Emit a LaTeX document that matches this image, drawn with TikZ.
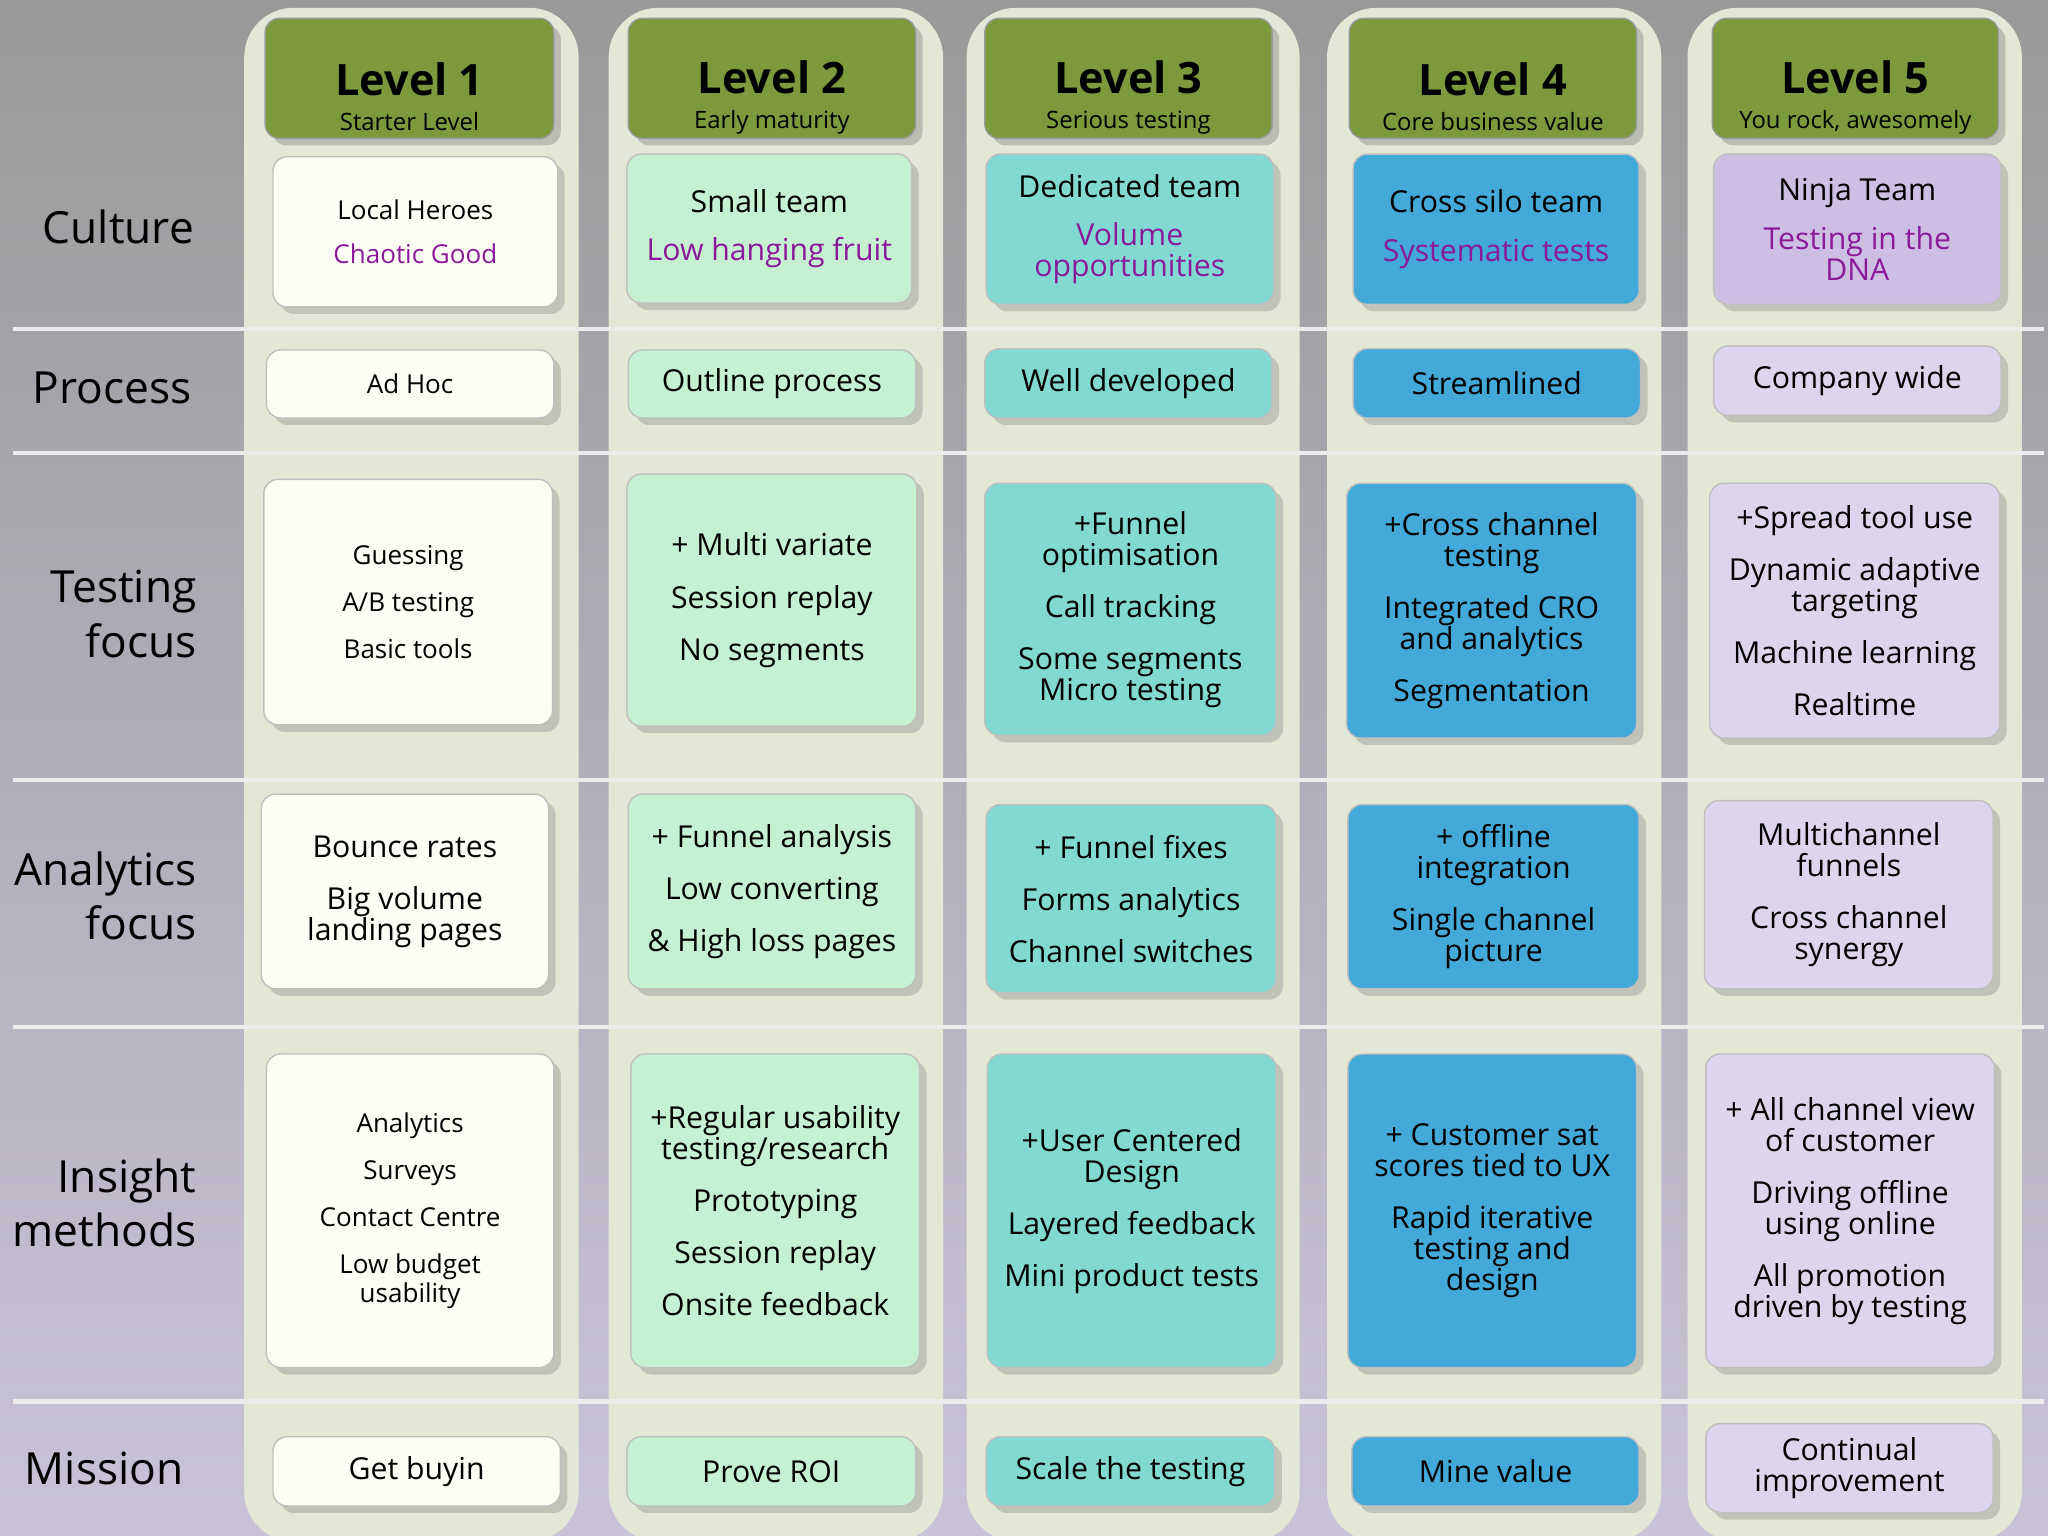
\documentclass[tikz,border=0pt]{standalone}
\usepackage{fontspec}
\setmainfont{Open Sans}
\usetikzlibrary{shadows}
\definecolor{purp}{HTML}{8A1A9A}
\definecolor{hdr}{HTML}{7C9A3C}
\definecolor{cA}{HTML}{FDFDF6}
\definecolor{cB}{HTML}{C6F0D2}
\definecolor{cC}{HTML}{82D9D2}
\definecolor{cD}{HTML}{42A9D8}
\definecolor{cE}{HTML}{CDBEE4}
\definecolor{cEl}{HTML}{DDD5EE}
\definecolor{colbg}{HTML}{E3E7D6}
\tikzset{
 cell/.style={draw=black!25,rounded corners=4pt,align=center,inner sep=2pt,
   drop shadow={shadow xshift=2pt,shadow yshift=-2pt,opacity=0.35}},
 hdrbox/.style={draw=black!40,fill=hdr,rounded corners=4pt,align=center,
   drop shadow={shadow xshift=2pt,shadow yshift=-2pt,opacity=0.4}},
 rowlab/.style={anchor=east,align=right,font=\fontsize{12.6}{15.5}\selectfont},
 big/.style={font=\fontsize{8.6}{8.8}\selectfont},
 small/.style={font=\fontsize{7.4}{8.4}\selectfont},
}
\newcommand{\pp}[1]{\textcolor{purp}{#1}}
\begin{document}
\begin{tikzpicture}[x=0.013061cm,y=-0.013061cm]
\shade[top color=black!40,bottom color=cEl!90!black!95] (0,0) rectangle (1568,1176);
\useasboundingbox (0,0) rectangle (1568,1176);
\foreach \a/\b in {187/443,466/722,740/995,1016/1272,1292/1548}
  \fill[colbg,rounded corners=14pt] (\a,6) rectangle (\b,1180);
\foreach \yy in {252,347,597,786,1073}
  \draw[white!85!gray,line width=1.2pt] (10,\yy) -- (1565,\yy);
\foreach \n/\a/\b/\t/\s in {h1/203/424/1/Starter Level,h2/481/701/2/Early maturity,h3/754/974/3/Serious testing,h4/1033/1253/4/Core business value,h5/1311/1530/5/{You rock, awesomely}}
  \node[hdrbox,minimum width=(\b-\a)*0.013061cm,minimum height=1.2cm,inner sep=0pt] (\n) at ({(\a+\b)/2},60)
   {\rule{0pt}{20pt}{\fontsize{12.3}{13}\selectfont\bfseries Level \t}\\[-2pt]{\fontsize{6.8}{8}\selectfont \s}};
\node[rowlab] (l1) at (158,174) {Culture};
\node[rowlab] (l2) at (156,297) {Process};
\node[rowlab] (l3) at (160,470) {Testing\\focus};
\node[rowlab] (l4) at (160,686) {Analytics\\focus};
\node[rowlab] (l5) at (160,921) {Insight\\methods};
\node[rowlab] (l6) at (150,1124) {Mission};
\newcommand{\cellbox}[8]{\node[cell,fill=#6,#7,minimum width=(#3-#2)*0.013061cm,minimum height=(#5-#4)*0.013061cm] (#1) at ({(#2+#3)/2},{(#4+#5)/2}) {#8};}
% culture
\cellbox{c1}{209}{427}{120}{235}{cA}{small}{Local Heroes\\[4pt]\pp{Chaotic Good}}
\cellbox{c2}{480}{698}{118}{232}{cB}{big}{Small team\\[5pt]\pp{Low hanging fruit}}
\cellbox{c3}{755}{975}{118}{233}{cC}{big}{Dedicated team\\[5pt]\pp{Volume}\\\pp{opportunities}}
\cellbox{c4}{1036}{1255}{118}{233}{cD}{big}{Cross silo team\\[5pt]\pp{Systematic tests}}
\cellbox{c5}{1312}{1532}{118}{233}{cE}{big}{Ninja Team\\[5pt]\pp{Testing in the}\\\pp{DNA}}
% process
\cellbox{p1}{204}{424}{268}{320}{cA}{small}{Ad Hoc}
\cellbox{p2}{481}{701}{268}{320}{cB}{big}{Outline process}
\cellbox{p3}{754}{974}{267}{320}{cC}{big}{Well developed}
\cellbox{p4}{1036}{1256}{267}{320}{cD}{big}{Streamlined}
\cellbox{p5}{1312}{1532}{265}{318}{cEl}{big}{Company wide}
% testing
\cellbox{t1}{202}{423}{367}{555}{cA}{small}{Guessing\\[5pt]A/B testing\\[5pt]Basic tools}
\cellbox{t2}{480}{702}{363}{556}{cB}{big}{+ Multi variate\\[6pt]Session replay\\[6pt]No segments}
\cellbox{t3}{754}{977}{370}{563}{cC}{big}{+Funnel\\optimisation\\[6pt]Call tracking\\[6pt]Some segments\\Micro testing}
\cellbox{t4}{1031}{1253}{370}{565}{cD}{big}{+Cross channel\\testing\\[6pt]Integrated CRO\\and analytics\\[6pt]Segmentation}
\cellbox{t5}{1309}{1531}{370}{565}{cEl}{big}{+Spread tool use\\[6pt]Dynamic adaptive\\targeting\\[6pt]Machine learning\\[6pt]Realtime}
% analytics
\cellbox{a1}{200}{420}{608}{757}{cA}{big}{Bounce rates\\[6pt]Big volume\\landing pages}
\cellbox{a2}{481}{701}{608}{757}{cB}{big}{+ Funnel analysis\\[6pt]Low converting\\[6pt]\& High loss pages}
\cellbox{a3}{755}{977}{616}{760}{cC}{big}{+ Funnel fixes\\[6pt]Forms analytics\\[6pt]Channel switches}
\cellbox{a4}{1032}{1255}{616}{757}{cD}{big}{+ offline\\integration\\[6pt]Single channel\\picture}
\cellbox{a5}{1305}{1526}{613}{757}{cEl}{big}{Multichannel\\funnels\\[6pt]Cross channel\\synergy}
% insight
\cellbox{i1}{204}{424}{807}{1047}{cA}{small}{Analytics\\[5pt]Surveys\\[5pt]Contact Centre\\[5pt]Low budget\\usability}
\cellbox{i2}{483}{704}{807}{1047}{cB}{big}{+Regular usability\\testing/research\\[6pt]Prototyping\\[6pt]Session replay\\[6pt]Onsite feedback}
\cellbox{i3}{756}{977}{807}{1047}{cC}{big}{+User Centered\\Design\\[6pt]Layered feedback\\[6pt]Mini product tests}
\cellbox{i4}{1032}{1253}{807}{1047}{cD}{big}{+ Customer sat\\scores tied to UX\\[6pt]Rapid iterative\\testing and\\design}
\cellbox{i5}{1306}{1527}{807}{1047}{cEl}{big}{+ All channel view\\of customer\\[6pt]Driving offline\\using online\\[6pt]All promotion\\driven by testing}
% mission
\cellbox{m1}{209}{429}{1100}{1153}{cA}{big}{Get buyin}
\cellbox{m2}{480}{701}{1100}{1153}{cB}{big}{Prove ROI}
\cellbox{m3}{755}{976}{1100}{1153}{cC}{big}{Scale the testing}
\cellbox{m4}{1035}{1255}{1100}{1153}{cD}{big}{Mine value}
\cellbox{m5}{1306}{1526}{1090}{1158}{cEl}{big}{Continual\\improvement}
\end{tikzpicture}
\end{document}
